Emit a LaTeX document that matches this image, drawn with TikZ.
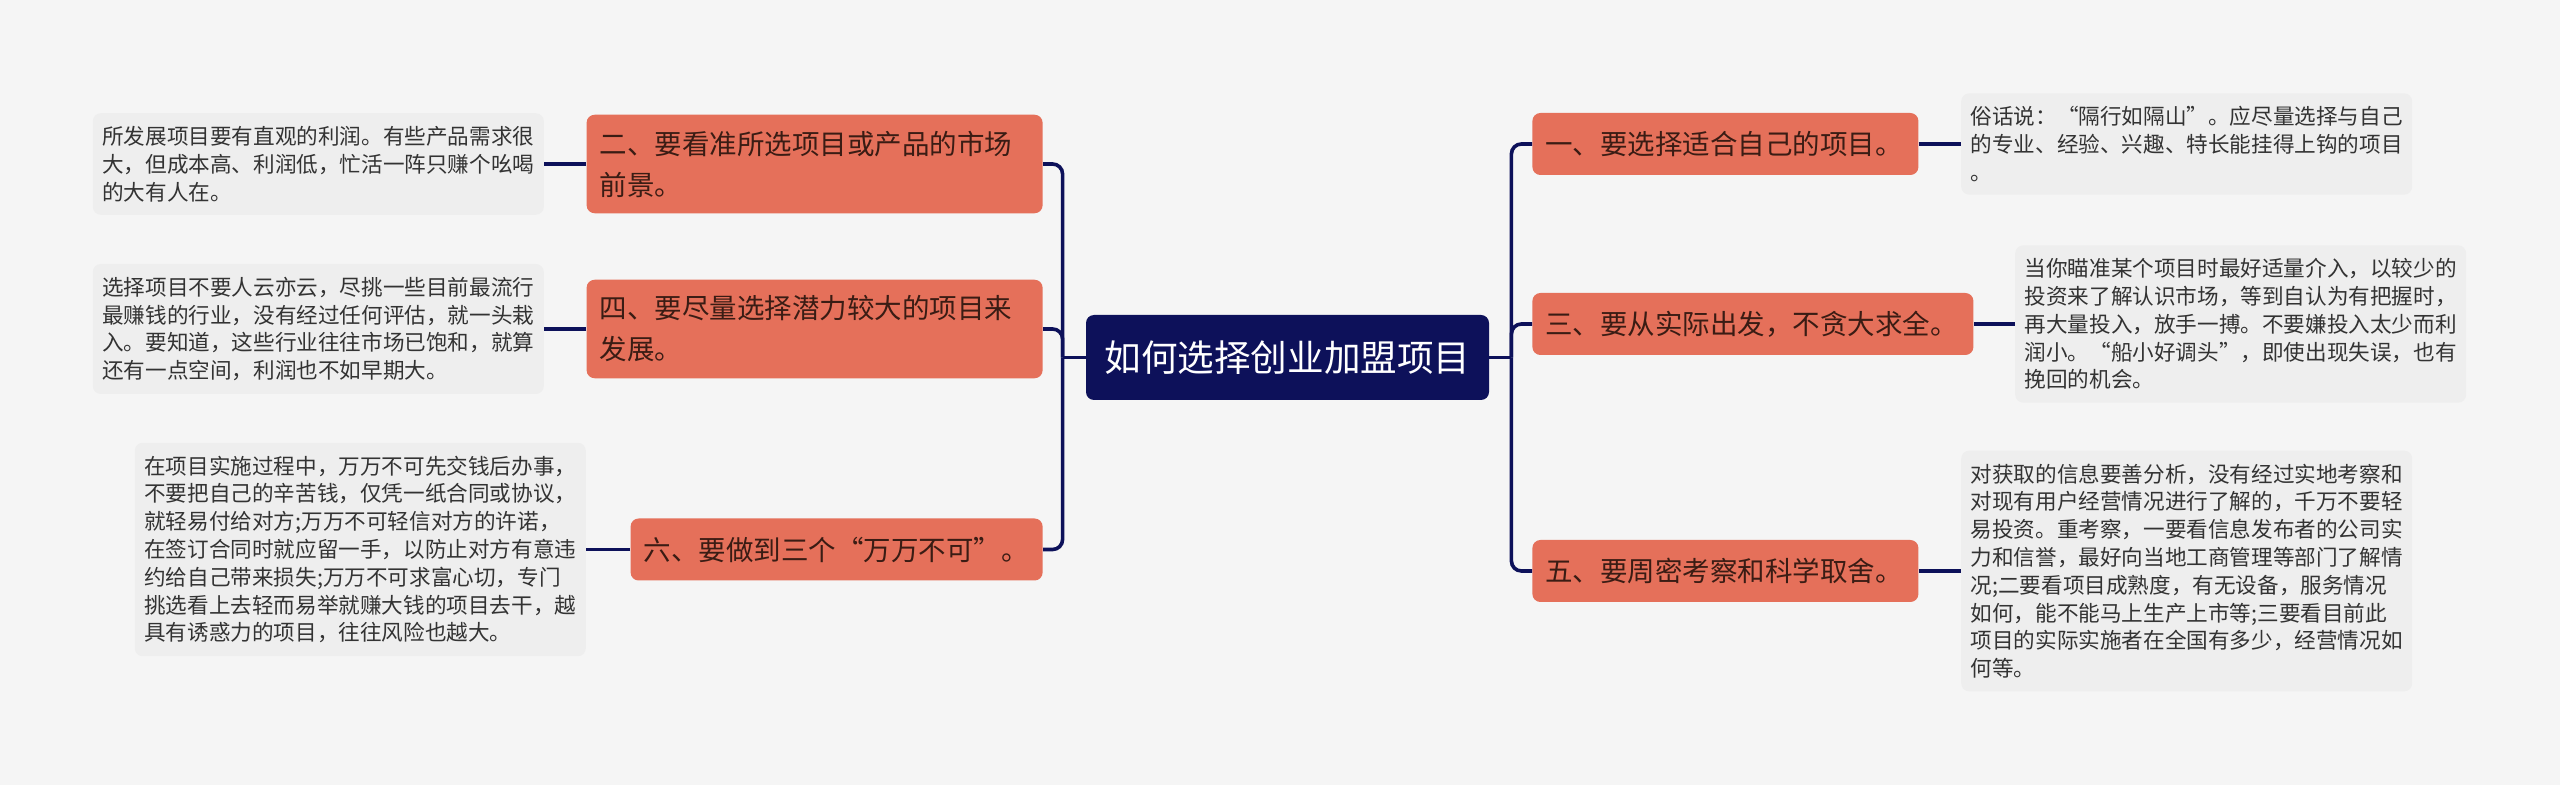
\documentclass[tikz,border=0pt]{standalone}
\usepackage{fontspec}
\setmainfont{Noto Sans CJK SC}
\usetikzlibrary{positioning}

\definecolor{bgcol}{HTML}{F5F5F5}
\definecolor{rootcol}{HTML}{0D115A}
\definecolor{brcol}{HTML}{E5705A}
\definecolor{brtext}{HTML}{3A1C14}
\definecolor{leafcol}{HTML}{EEEEEE}
\definecolor{leaftext}{HTML}{333333}

\begin{document}
\begin{tikzpicture}[
  x=0.5pt, y=-0.5pt,
  root/.style={fill=rootcol, rounded corners=4pt, text=white, font=\fontsize{18.3pt}{22pt}\selectfont,
    minimum width=201.5pt, minimum height=42.5pt, inner sep=0pt},
  branch/.style={fill=brcol, rounded corners=4pt, text=brtext, font=\fontsize{13.75pt}{20.5pt}\selectfont,
    align=left, inner xsep=6.5pt, inner ysep=8pt, minimum height=31pt},
  leaf/.style={fill=leafcol, rounded corners=4pt, text=leaftext, font=\fontsize{10.8pt}{13.9pt}\selectfont,
    align=left, text width=216pt, inner xsep=4.75pt, inner ysep=6.5pt},
  link/.style={draw=rootcol, line width=1.8pt, rounded corners=5pt}
]
\useasboundingbox (0,0) rectangle (2560,785);
\fill[bgcol] (0,0) rectangle (2560,785);

% ---- centre ----
\node[root] (root) at (1287.5,357.5) {如何选择创业加盟项目};
\coordinate (lhub) at ([xshift=-11.5pt]root.west);
\coordinate (rhub) at ([xshift=11pt]root.east);

% ---- left branches ----
\node[branch, anchor=east, text width=215pt] (b2) at (1043,164) {二、要看准所选项目或产品的市场\\前景。};
\node[branch, anchor=east, text width=215pt] (b4) at (1043,329) {四、要尽量选择潜力较大的项目来\\发展。};
\node[branch, anchor=east, text width=193pt] (b6) at (1043,549.5) {六、要做到三个“万万不可”。};

% ---- right branches ----
\node[branch, anchor=west, text width=180pt] (b1) at (1532,144) {一、要选择适合自己的项目。};
\node[branch, anchor=west, text width=207.5pt] (b3) at (1532,324) {三、要从实际出发，不贪大求全。};
\node[branch, anchor=west, text width=180pt] (b5) at (1532,571) {五、要周密考察和科学取舍。};

% ---- notes ----
\node[leaf, left=21pt of b2] (n2) {所发展项目要有直观的利润。有些产品需求很\\大，但成本高、利润低，忙活一阵只赚个吆喝\\的大有人在。};
\node[leaf, left=21pt of b4] (n4) {选择项目不要人云亦云，尽挑一些目前最流行\\最赚钱的行业，没有经过任何评估，就一头栽\\入。要知道，这些行业往往市场已饱和，就算\\还有一点空间，利润也不如早期大。};
\node[leaf, left=22pt of b6] (n6) {在项目实施过程中，万万不可先交钱后办事，\\不要把自己的辛苦钱，仅凭一纸合同或协议，\\就轻易付给对方;万万不可轻信对方的许诺，\\在签订合同时就应留一手，以防止对方有意违\\约给自己带来损失;万万不可求富心切，专门\\挑选看上去轻而易举就赚大钱的项目去干，越\\具有诱惑力的项目，往往风险也越大。};
\node[leaf, right=21pt of b1] (n1) {俗话说：“隔行如隔山”。应尽量选择与自己\\的专业、经验、兴趣、特长能挂得上钩的项目\\。};
\node[leaf, right=20.5pt of b3] (n3) {当你瞄准某个项目时最好适量介入，以较少的\\投资来了解认识市场，等到自认为有把握时，\\再大量投入，放手一搏。不要嫌投入太少而利\\润小。“船小好调头”，即使出现失误，也有\\挽回的机会。};
\node[leaf, right=21pt of b5] (n5) {对获取的信息要善分析，没有经过实地考察和\\对现有用户经营情况进行了解的，千万不要轻\\易投资。重考察，一要看信息发布者的公司实\\力和信誉，最好向当地工商管理等部门了解情\\况;二要看项目成熟度，有无设备，服务情况\\如何，能不能马上生产上市等;三要看目前此\\项目的实际实施者在全国有多少，经营情况如\\何等。};

% ---- links ----
\draw[link] (root.west) -- (lhub);
\draw[link] (root.east) -- (rhub);
\foreach \b in {b2,b4,b6} \draw[link] (lhub) |- (\b.east);
\foreach \b in {b1,b3,b5} \draw[link] (rhub) |- (\b.west);
\draw[link] (b2.west) -- (n2.east);
\draw[link] (b4.west) -- (n4.east);
\draw[link] (b6.west) -- (n6.east);
\draw[link] (b1.east) -- (n1.west);
\draw[link] (b3.east) -- (n3.west);
\draw[link] (b5.east) -- (n5.west);
\end{tikzpicture}
\end{document}
